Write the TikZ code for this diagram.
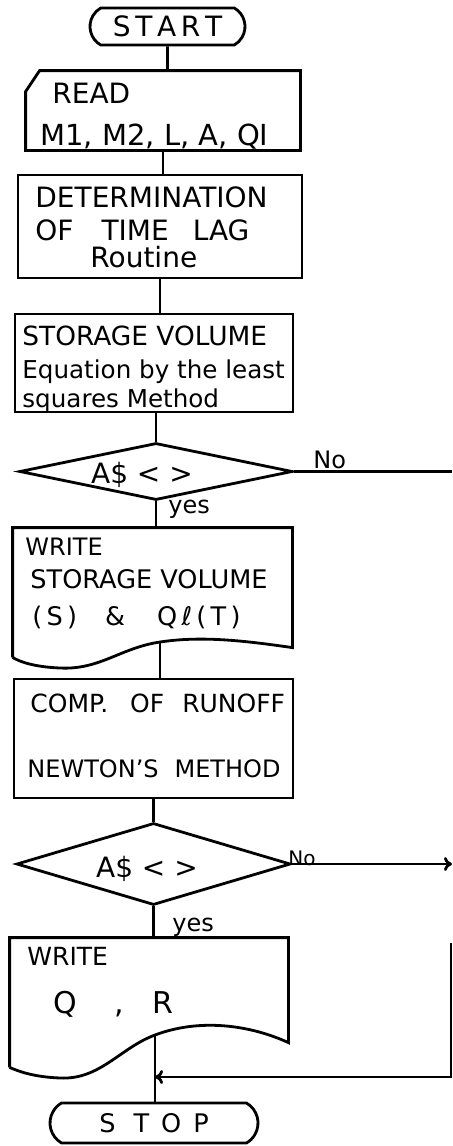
\documentclass[tikz,border=0pt]{standalone}
\usepackage{fontspec}
\setmainfont{DejaVu Sans}
\usetikzlibrary{shapes.geometric, shapes.misc, arrows.meta}
\tikzset{
  flow/.style = {line width = 1.4pt},
  tip/.style = {-{To[length = 4pt, width = 7pt]}},
  txt/.style = {inner sep = 0pt, anchor = base west},
  bigtxt/.style = {font = \fontsize{14}{16}\selectfont},
  midtxt/.style = {font = \fontsize{12.8}{15}\selectfont},
  smalltxt/.style = {font = \fontsize{12}{14}\selectfont},
  term/.style = {draw, flow, rounded rectangle, rounded rectangle arc length = 120,
                 inner sep = 0pt},
  plainbox/.style = {rectangle, inner sep = 0pt},
  procbox/.style = {plainbox, draw, flow},
  decide/.style = {draw, flow, diamond, inner sep = 0pt},
}
\begin{document}
\begin{tikzpicture}[x = .5pt, y = -.5pt]
      \useasboundingbox (0,0) rectangle (452,1146);
      \coordinate (rim) at (452,0);

      \node [term, bigtxt, minimum width = 77.5pt, minimum height = 18.5pt]
        (start) at (167.5,26.5) {S\,T\,A\,R\,T};

      \node [plainbox, minimum width = 137pt, minimum height = 39.5pt] (read) at (163,110.5) {};
      \draw [flow] ([xshift = 7pt]read.north west) -- (read.north east) -- (read.south east)
        -- (read.south west) -- ([yshift = -10.5pt]read.north west) -- cycle;
      \node [txt, bigtxt] (read-a) at (52,103) {READ};
      \node [txt, font = \fontsize{14.5}{16}\selectfont] (read-b) at (40,145) {M1, M2, L, A, QI};

      \node [procbox, minimum width = 142pt, minimum height = 51.5pt] (det) at (160,226.5) {};
      \node [txt, bigtxt] (det-a) at (35,207) {DETERMINATION};
      \node [txt, bigtxt] (det-b) at (35,240) {OF\hspace{14pt}TIME\hspace{12pt}LAG};
      \node [txt, bigtxt] (det-c) at (90,267) {Routine};

      \node [procbox, minimum width = 139pt, minimum height = 49pt] (stor) at (154,363) {};
      \node [txt, font = \fontsize{13.2}{15}\selectfont] (stor-a) at (22,345) {STORAGE VOLUME};
      \node [txt, font = \fontsize{12.3}{14}\selectfont] (stor-b) at (22,378) {Equation by the least};
      \node [txt, font = \fontsize{12.3}{14}\selectfont] (stor-c) at (22,407) {squares Method};

      \node [decide, minimum width = 136.5pt, minimum height = 28.5pt] (q1) at (156,471.5) {};
      \node [txt, bigtxt, anchor = base] (q1-t) at (142,483) {A\$ < >};
      \node [txt, smalltxt] (q1-no) at (313,468) {No};
      \node [txt, smalltxt] (q1-yes) at (168,513) {yes};

      \node [plainbox, minimum width = 139.5pt, minimum height = 64.5pt] (w1) at (152.5,592.5) {};
      \coordinate (w1-wave) at (160,642);
      \draw [flow] (w1.south west) -- (w1.north west) -- (w1.north east) -- ++(0,120)
        .. controls (240,640) and (200,636) .. (w1-wave)
        .. controls (120,648) and (100,670) .. (60,668)
        .. controls (35,667) and (20,662) .. (w1.south west);
      \node [txt, font = \fontsize{12}{14}\selectfont] (w1-a) at (25,555) {WRITE};
      \node [txt, midtxt] (w1-b) at (30,588) {STORAGE VOLUME};
      \node [txt, midtxt] (w1-c) at (32,625)
        {(\,S\,)\hspace{14pt}\&\hspace{16pt}Q\,ℓ\,(\,T\,)};

      \node [procbox, minimum width = 139.5pt, minimum height = 59.5pt] (comp) at (153.5,738.5) {};
      \node [txt, font = \fontsize{12.5}{14}\selectfont] (comp-a) at (30,712)
        {COMP.\hspace{11pt}OF\hspace{9pt}RUNOFF};
      \node [txt, font = \fontsize{12}{14}\selectfont] (comp-b) at (27,777)
        {NEWTON'S\hspace{8pt}METHOD};

      \node [decide, minimum width = 137pt, minimum height = 41pt] (q2) at (153.5,864) {};
      \node [txt, bigtxt, anchor = base] (q2-t) at (147,877) {A\$ < >};
      \node [txt, font = \fontsize{10}{12}\selectfont] (q2-no) at (288,865) {No};
      \node [txt, smalltxt] (q2-yes) at (172,931) {yes};

      \node [plainbox, minimum width = 139pt, minimum height = 64.5pt] (w2) at (149,1002.5) {};
      \coordinate (w2-wave) at (155,1035);
      \draw [flow] (w2.south west) -- (w2.north west) -- (w2.north east) -- ++(0,105)
        .. controls (250,1025) and (200,1018) .. (w2-wave)
        .. controls (120,1048) and (100,1080) .. (60,1078)
        .. controls (35,1077) and (20,1072) .. (w2.south west);
      \node [txt, font = \fontsize{12.5}{14}\selectfont] (w2-a) at (27,965) {WRITE};
      \node [txt, font = \fontsize{15}{17}\selectfont] (w2-b) at (53,1013) {Q\hspace{19pt},\hspace{14pt}R};

      \node [term, midtxt, minimum width = 104pt, minimum height = 20pt]
        (stop) at (154,1123) {S\hspace{9pt}T\hspace{6pt}O\hspace{6pt}P};

      \draw [flow] (start) -- (start |- read.north);
      \draw [flow] (read.south) -- (read.south |- det.north);
      \draw [flow] (det) -- (det |- stor.north);
      \draw [flow] (q1.north) -- (q1.north |- stor.south);
      \draw [flow] (q1) -- (q1 |- w1.north);
      \draw [flow] (w1-wave) -- (w1-wave |- comp.north);
      \draw [flow] (q2.north) -- (q2.north |- comp.south);
      \draw [flow] (q2) -- (q2 |- w2.north);
      \draw [flow] (w2-wave) -- (w2-wave |- stop.north);
      \draw [flow] (q1.east) -- (q1.east -| rim);
      \draw [flow, tip] (q2.east) -- (q2.east -| rim);
      \coordinate (back) at (451,943);
      \coordinate (join) at (155,1077);
      \draw [flow, tip] (back) |- (join);
    \end{tikzpicture}
\end{document}
